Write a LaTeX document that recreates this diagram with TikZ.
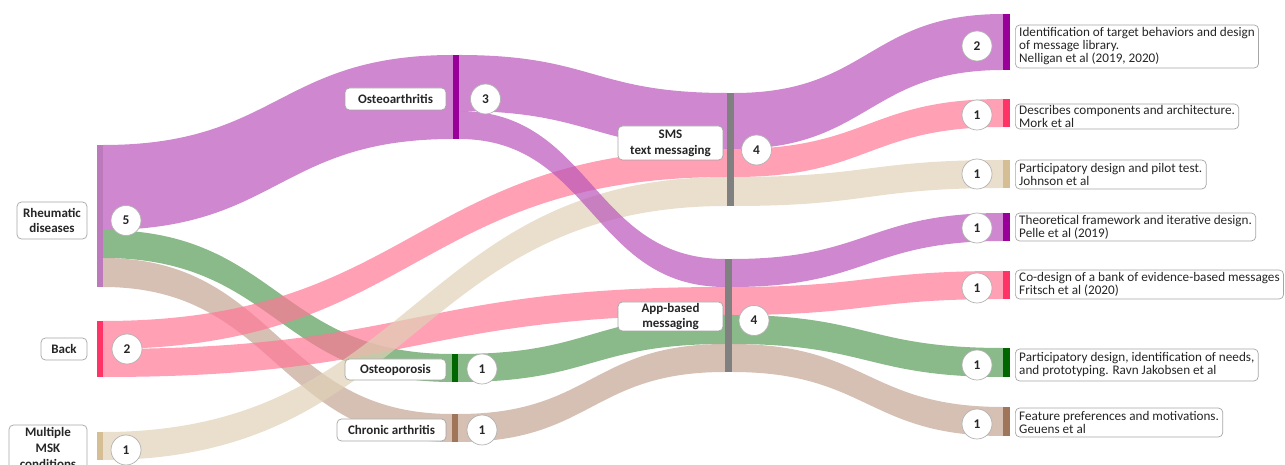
\documentclass[tikz,border=0pt]{standalone}
\usepackage{fontspec}
\setmainfont{Carlito}

% band colours (drawn half transparent)
\definecolor{fPurple}{RGB}{186,86,186}
\definecolor{fPink}{RGB}{255,119,149}
\definecolor{fTan}{RGB}{224,209,182}
\definecolor{fGreen}{RGB}{88,155,88}
\definecolor{fBrown}{RGB}{196,165,148}
% bar colours
\definecolor{bPurple}{RGB}{153,0,153}
\definecolor{bRheu}{RGB}{188,122,188}
\definecolor{bPink}{RGB}{255,51,102}
\definecolor{bTan}{RGB}{214,190,148}
\definecolor{bGreen}{RGB}{0,102,0}
\definecolor{bBrown}{RGB}{160,118,90}
\definecolor{bGray}{RGB}{128,128,128}

% x1, top1, bottom1, x2, top2, bottom2, colour
\newcommand{\flowband}[7]{%
  \fill[#7, fill opacity=0.7] (#1,#2) .. controls ({(#1+#4)/2},#2) and ({(#1+#4)/2},#5) .. (#4,#5)
    -- (#4,#6) .. controls ({(#1+#4)/2},#6) and ({(#1+#4)/2},#3) .. (#1,#3) -- cycle;}

\tikzset{
  lbl/.style={draw=gray!70, fill=white, rounded corners=2.5pt, text=black!85,
    font=\fontsize{7.4}{9}\selectfont\bfseries, align=center, inner sep=0pt},
  cnt/.style={circle, draw=gray!60, fill=white, minimum size=0.6cm, inner sep=0pt,
    text=black!85, font=\fontsize{7.6}{9}\selectfont\bfseries},
  refbox/.style={draw=gray!70, fill=white, rounded corners=2.5pt, anchor=west, align=left,
    inner xsep=2.2pt, inner ysep=0pt, text=black!85, font=\fontsize{7.5}{7.4}\selectfont}
}

\begin{document}
\begin{tikzpicture}[x=0.02cm, y=-0.02cm]
  \useasboundingbox (0,0) rectangle (1285,465);

  % flows, left to middle
  \flowband{103}{145}{230}{453}{55}{139}{fPurple}
  \flowband{103}{230}{258}{452}{354}{382}{fGreen}
  \flowband{103}{258}{287}{452}{414}{442}{fBrown}
  \flowband{103}{321}{349}{727}{149}{177}{fPink}
  \flowband{103}{349}{377}{725}{287}{315}{fPink}
  \flowband{103}{432}{460}{727}{177}{206}{fTan}
  \flowband{459}{55}{111}{727}{93}{149}{fPurple}
  \flowband{459}{111}{139}{725}{259}{287}{fPurple}
  \flowband{458}{354}{382}{725}{315}{344}{fGreen}
  \flowband{458}{414}{442}{725}{344}{372}{fBrown}
  % flows, middle to right
  \flowband{734}{93}{149}{1003}{14}{70}{fPurple}
  \flowband{734}{149}{177}{1003}{99}{127}{fPink}
  \flowband{734}{177}{206}{1003}{160}{188}{fTan}
  \flowband{732}{259}{287}{1003}{213}{241}{fPurple}
  \flowband{732}{287}{315}{1003}{271}{299}{fPink}
  \flowband{732}{315}{344}{1003}{348}{377}{fGreen}
  \flowband{732}{344}{372}{1003}{407}{436}{fBrown}

  % bars
  \fill[bRheu] (97,145) rectangle (103,287);
  \fill[bPink] (97,321) rectangle (103,377);
  \fill[bTan] (97,432) rectangle (103,460);
  \fill[bPurple] (453,55) rectangle (459,139);
  \fill[bGreen] (452,354) rectangle (458,382);
  \fill[bBrown] (452,414) rectangle (458,442);
  \fill[bGray] (727,93) rectangle (734,206);
  \fill[bGray] (725,259) rectangle (732,372);
  \fill[bPurple] (1003,14) rectangle (1010,70);
  \fill[bPink] (1003,99) rectangle (1010,127);
  \fill[bTan] (1003,160) rectangle (1010,188);
  \fill[bPurple] (1003,213) rectangle (1010,241);
  \fill[bPink] (1003,271) rectangle (1010,299);
  \fill[bGreen] (1003,348) rectangle (1010,377);
  \fill[bBrown] (1003,407) rectangle (1010,436);

  % labels
  \node[lbl, minimum width=1.4cm, minimum height=0.74cm] (rheu) at (52,220.5) {Rheumatic\\diseases};
  \node[lbl, minimum width=0.92cm, minimum height=0.44cm] (back) at (64,349) {Back};
  \node[lbl, minimum width=1.56cm, minimum height=0.92cm] (multi) at (48,448) {Multiple\\MSK\\conditions};
  \node[lbl, minimum width=2.02cm, minimum height=0.44cm] (osteoa) at (395.5,99) {Osteoarthritis};
  \node[lbl, minimum width=2.02cm, minimum height=0.42cm] (osteop) at (395.5,369.5) {Osteoporosis};
  \node[lbl, minimum width=2.18cm, minimum height=0.44cm] (chronic) at (391.5,430) {Chronic arthritis};
  \node[lbl, minimum width=2.1cm, minimum height=0.68cm] (sms) at (670.5,143) {SMS\\text messaging};
  \node[lbl, minimum width=2.1cm, minimum height=0.58cm] (app) at (670.5,316.5) {App-based\\messaging};

  % counts
  \node[cnt] (nrheu) at (126,220.5) {5};
  \node[cnt] (nback) at (127,349) {2};
  \node[cnt] (nmulti) at (126,450) {1};
  \node[cnt] (nosteoa) at (485.5,99) {3};
  \node[cnt] (nosteop) at (482,369) {1};
  \node[cnt] (nchronic) at (482,430) {1};
  \node[cnt] (nsms) at (756.5,150) {4};
  \node[cnt] (napp) at (754,320.5) {4};
  \node[cnt] (nnelligan) at (977,46) {2};
  \node[cnt] (nmork) at (977,115) {1};
  \node[cnt] (njohnson) at (977,174) {1};
  \node[cnt] (npelle) at (977,228) {1};
  \node[cnt] (nfritsch) at (977,288) {1};
  \node[cnt] (nravn) at (977,365) {1};
  \node[cnt] (ngeuens) at (977,424) {1};

  % studies
  \node[refbox, minimum height=0.86cm] (nelligan) at (1015,46.5)
    {Identification of target behaviors and design\\of message library.\\Nelligan et al (2019, 2020)};
  \node[refbox, minimum height=0.5cm] (mork) at (1015,116.5)
    {Describes components and architecture.\\Mork et al};
  \node[refbox, minimum height=0.58cm] (johnson) at (1015,174.5)
    {Participatory design and pilot test.\\Johnson et al};
  \node[refbox, minimum height=0.56cm] (pelle) at (1015,227)
    {Theoretical framework and iterative design.\\Pelle et al (2019)};
  \node[refbox, minimum height=0.58cm] (fritsch) at (1015,284.5)
    {Co-design of a bank of evidence-based messages\\Fritsch et al (2020)};
  \node[refbox, minimum height=0.64cm] (ravn) at (1015,365)
    {Participatory design, identification of needs,\\and prototyping. Ravn Jakobsen et al};
  \node[refbox, minimum height=0.58cm] (geuens) at (1015,422.5)
    {Feature preferences and motivations.\\Geuens et al};
\end{tikzpicture}
\end{document}
